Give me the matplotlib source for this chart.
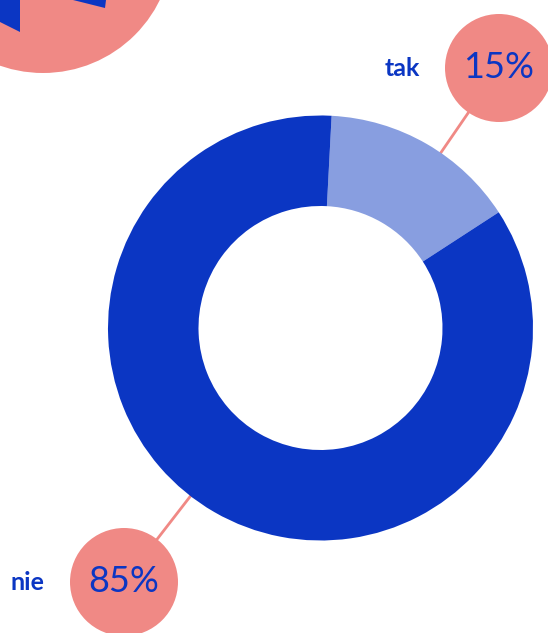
import numpy as np
import matplotlib.pyplot as plt
from matplotlib.patches import Circle, Polygon

# dane
labels = ['tak', 'nie']
values = [15, 85]
pct_labels = ['15%', '85%']

blue = '#0b36c3'
light_blue = '#889ee0'
salmon = '#f08985'

W, H = 548, 633
fig = plt.figure(figsize=(W / 100, H / 100), dpi=100)
ax = fig.add_axes([0, 0, 1, 1])

cx, cy = 320.5, H - 328
r_out, r_in = 212.5, 122

# etykiety: pozycje kółek (piksele)
bubbles = [(499, H - 68), (124, H - 582)]
name_pos = [(402, H - 68), (27, H - 582)]

# linie od wykresu do kółek
for bx, by in bubbles:
    ang = np.arctan2(by - cy, bx - cx)
    ax.plot([cx + 150 * np.cos(ang), bx], [cy + 150 * np.sin(ang), by],
            color=salmon, lw=2, zorder=1, solid_capstyle='butt')

ax.pie(values, colors=[light_blue, blue], startangle=87, counterclock=False,
       center=(cx, cy), radius=r_out,
       wedgeprops=dict(width=r_out - r_in, linewidth=0), frame=True)
for w in ax.patches:
    w.set_zorder(2)

for (bx, by), (nx, ny), lab, pct in zip(bubbles, name_pos, labels, pct_labels):
    ax.add_patch(Circle((bx, by), 54, color=salmon, zorder=3, lw=0))
    ax.text(bx, by, pct, ha='center', va='center', color=blue, fontsize=26,
            family='Lato', fontweight='normal', zorder=4)
    ax.text(nx, ny, lab, ha='center', va='center', color=blue, fontsize=18,
            family='Lato', fontweight='bold', zorder=4)

# dekoracyjne kółko w lewym górnym rogu
ax.add_patch(Circle((43, H + 57), 130, color=salmon, zorder=3, lw=0))
ax.add_patch(Polygon([(0, H), (20, H), (20, H - 32), (0, H - 22)],
                     closed=True, color=blue, zorder=4, lw=0))
ax.add_patch(Polygon([(73, H), (106, H), (105, H - 8)],
                     closed=True, color=blue, zorder=4, lw=0))

ax.set_xlim(0, W)
ax.set_ylim(0, H)
ax.set_aspect('equal')
ax.axis('off')

fig.savefig('out.png', dpi=100, facecolor='white')
